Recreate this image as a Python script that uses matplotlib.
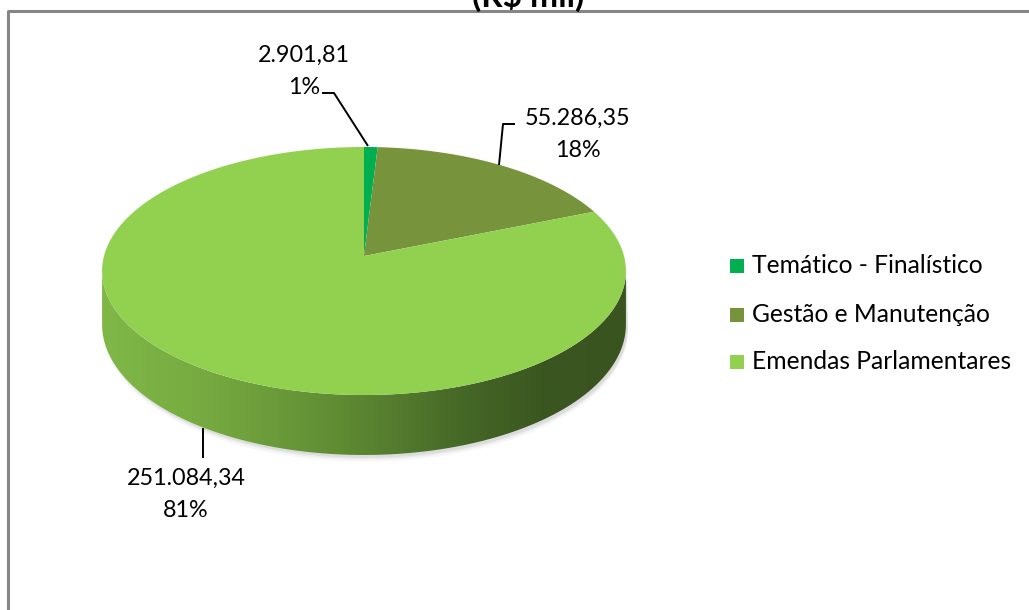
import numpy as np
import matplotlib
matplotlib.use('Agg')
import matplotlib.pyplot as plt
from matplotlib.patches import Polygon, Rectangle

# ---------------- data ----------------
categories = ['Temático - Finalístico', 'Gestão e Manutenção', 'Emendas Parlamentares']
values = [2901.81, 55286.35, 251084.34]
colors = ['#00B050', '#77933C', '#92D050']
title = '(R$ mil)'

FONT = ['Lato', 'DejaVu Sans']


def fmt_br(v):
    s = f'{v:,.2f}'
    return s.replace(',', 'X').replace('.', ',').replace('X', '.')


W, H = 1029, 610
fig = plt.figure(figsize=(W / 100, H / 100), dpi=100)
ax = fig.add_axes([0, 0, 1, 1])
ax.set_xlim(0, W)
ax.set_ylim(H, 0)
ax.axis('off')

# chart border (top and left visible)
ax.plot([8, 8, W + 5], [H + 5, 11, 11], color='#868686', lw=2.2, solid_capstyle='butt')

# ---------------- 3D pie geometry (perspective projection of a disc) ----------------
cx, cy = 364.0, 256.0
A, B, K = 260.0, 122.2, 0.121
D = 52.7


def proj(theta_deg, drop=0.0):
    t = np.radians(theta_deg)
    den = 1 + K * np.sin(t)
    x = cx + A * np.cos(t) / den
    y = cy - B * np.sin(t) / den + drop / den
    return x, y


tL = 180 + np.degrees(np.arcsin(K))
tR = 360 - np.degrees(np.arcsin(K))
th = np.linspace(tL, tR, 300)
xt, yt = proj(th)
xb, yb = proj(th[::-1], D)
side_xy = np.column_stack([np.concatenate([xt, xb]), np.concatenate([yt, yb])])

# soft shadow
for i, (off, al) in enumerate([(6, 0.05), (4, 0.08), (2.5, 0.12)]):
    xs, ys = proj(th[::-1], D + off)
    sh = np.column_stack([np.concatenate([xt - off * 0.3 + 2, xs + 2]),
                          np.concatenate([yt + off, ys])])
    ax.add_patch(Polygon(sh, closed=True, fc='#707070', ec='none', alpha=al, zorder=1))

# side with horizontal gradient
side_patch = Polygon(side_xy, closed=True, fc='none', ec='none', zorder=2)
ax.add_patch(side_patch)
stops_x = np.array([0.0, 0.2, 0.45, 0.7, 0.85, 1.0])
stops_c = np.array([[128, 184, 72], [118, 170, 64], [96, 140, 52],
                    [68, 102, 38], [58, 86, 32], [58, 84, 32]]) / 255.0
gx = np.linspace(0, 1, 400)
grad = np.stack([np.interp(gx, stops_x, stops_c[:, k]) for k in range(3)], axis=-1)[None, :, :]
x0, x1 = side_xy[:, 0].min(), side_xy[:, 0].max()
im = ax.imshow(grad, extent=(x0, x1, 470, 250), aspect='auto', zorder=2, interpolation='bilinear')
im.set_clip_path(side_patch)

# top face wedges (start at 12 o'clock, clockwise)
total = float(sum(values))
start = 90.0
for v, c in zip(values, colors):
    span = 360.0 * v / total
    angs = np.linspace(start, start - span, max(int(span * 2), 4))
    px, py = proj(angs)
    poly = np.column_stack([np.concatenate([[cx], px]), np.concatenate([[cy], py])])
    ax.add_patch(Polygon(poly, closed=True, fc=c, ec='none', zorder=3))
    start -= span

# ---------------- data labels with leader lines ----------------
lab_kw = dict(fontsize=16.8, family=FONT, color='black', ha='center', va='baseline', zorder=5)
val_lbl = [fmt_br(v) for v in values]
pct_lbl = [f'{round(100 * v / total):.0f}%' for v in values]

label_pos = [(304, 62, 94), (578, 125, 157), (186, 485, 517)]
for (lx, y1, y2), vl, pl in zip(label_pos, val_lbl, pct_lbl):
    ax.text(lx, y1, vl, **lab_kw)
    ax.text(lx, y2, pl, **lab_kw)

line_kw = dict(color='black', lw=1.4, zorder=4, solid_capstyle='butt')
ax.plot([322, 334, 368], [93, 93, 146], **line_kw)
ax.plot([515, 503, 499], [124, 124, 165], **line_kw)
ax.plot([203, 203], [428, 458], **line_kw)

# ---------------- legend ----------------
leg_y = [266, 315, 362]
for c, name, y in zip(colors, categories, leg_y):
    ax.add_patch(Rectangle((730, y - 7), 14, 14, fc=c, ec='none', zorder=5))
    ax.text(752, y + 7, name, fontsize=17.7, family=FONT, color='black',
            ha='left', va='baseline', zorder=5)

# ---------------- title (cut off at top, as in the reference) ----------------
ax.text(528, 7, title, fontsize=24, fontweight='bold', family=FONT,
        ha='center', va='baseline', zorder=6)

fig.savefig('out.png', dpi=100, facecolor='white')
